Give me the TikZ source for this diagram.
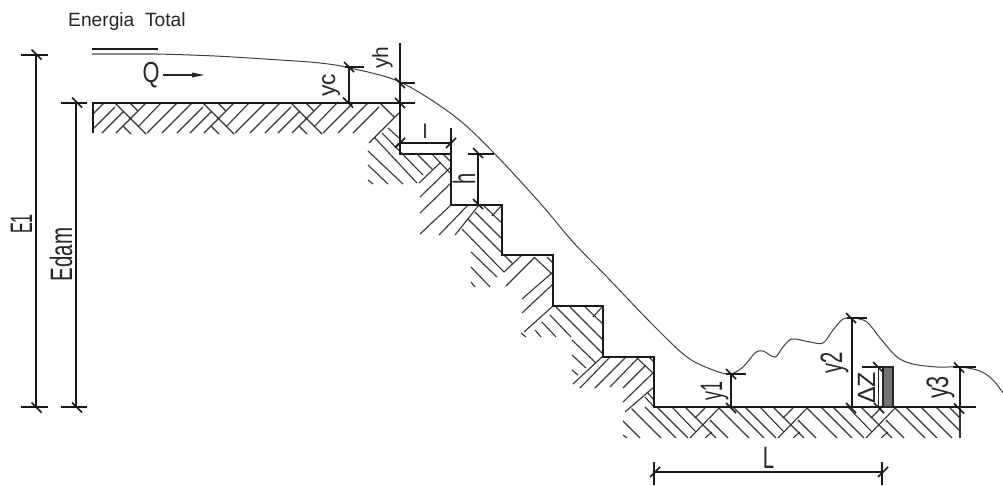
\documentclass[tikz,border=0pt]{standalone}
\usepackage{fontspec}
\usepackage{graphicx}
\setmainfont{Liberation Sans}
\tikzset{
  outline/.style={line width=1.4pt,draw=black!90},
  hatch/.style={line width=1.1pt,draw=black!80},
  dimline/.style={line width=1.3pt,draw=black!90},
  slash/.style={line width=1.6pt,draw=black!90},
  flow/.style={line width=1pt,draw=black!75},
  lab/.style={inner sep=0pt,text=black!85},
  vlab/.style={lab,rotate=90,anchor=base}
}
\newcommand{\bs}[2]{\draw[slash] (#1-5,#2-5) -- (#1+5,#2+5);}
\newcommand{\fs}[2]{\draw[slash] (#1-5,#2+5) -- (#1+5,#2-5);}
\newcommand{\fnt}[1]{\fontsize{#1}{#1}\selectfont}
\begin{document}
\begin{tikzpicture}[x=1pt,y=-1pt]
\fill[white] (0,0) rectangle (1003,485);
\useasboundingbox (0,0) rectangle (1003,485);
% top platform hatch
\begin{scope}
\clip (93,103) rectangle (400,134);
\foreach \t in {5,93,181,269}{
\begin{scope}[shift={(\t,0)}]
\draw[hatch] (9,133)--(31,111) (23,133)--(53,103) (22,103)--(53,134) (37,103)--(45,111) (30,126)--(38,134)
 (45,127)--(68,103) (54,133)--(84,103) (69,133)--(99,103) (84,133)--(110,107);
\end{scope}}
\end{scope}
% first step
\draw[hatch] (380,103)--(395,118) (369,143)--(399,113) (395,147)--(399,143) (382,133)--(423,175) (375,138)--(417,183)
 (368,151)--(403,184) (368,165)--(388,184) (368,180)--(373,184) (388,128)--(399,138);
% tile at (451,154)
\begin{scope}[shift={(451,154)}]
\draw[hatch] (-32,29)--(-11,9) (-31,43)--(0,13) (-31,59)--(0,29) (-31,80)--(1,50) (-12,81)--(17,51) (4,81)--(28,51)
 (-34,0)--(-19,15) (-19,0)--(-1,19) (-8,0)--(-1,7);
\end{scope}
% tile at (502,205)
\begin{scope}[shift={(502,205)}]
\draw[hatch] (-34,14)--(-1,47) (-27,7)--(0,34) (-18,1)--(0,18) (-10,11)--(-1,1)
 (-40,24)--(2,67) (-31,47)--(-5,72) (-31,62)--(-12,82) (-31,77)--(-27,82);
\end{scope}
% tile at (553,255)
\begin{scope}[shift={(553,255)}]
\draw[hatch] (-49,17)--(-32,1) (-47,31)--(-18,2) (-31,44)--(0,17) (-31,58)--(0,29) (-29,77)--(0,51)
 (-19,2)--(0,20) (-49,0)--(-41,8) (-6,2)--(0,8);
\end{scope}
% tile at (603,306)
\begin{scope}[shift={(603,306)}]
\draw[hatch] (-47,1)--(-1,47) (-33,1)--(0,34) (-18,1)--(0,18) (-10,11)--(-1,1)
 (-53,9)--(-32,31) (-31,34)--(-7,57) (-61,16)--(-47,31) (-31,49)--(-17,62) (-68,24)--(-62,31) (-31,64)--(-25,69) (-82,27)--(-77,31);
\end{scope}
% tile at (654,357)
\begin{scope}[shift={(654,357)}]
\draw[hatch] (-81,27)--(-52,0) (-74,31)--(-44,0) (-59,31)--(-29,1) (-44,30)--(-15,0) (-31,31)--(-9,9) (-31,45)--(-1,16) (-29,55)--(0,30)
 (-17,1)--(-1,16) (-5,0)--(0,5) (-7,35)--(0,43) (-9,40)--(0,50);
\end{scope}
% floor hatch
\begin{scope}
\clip (654,407)--(960,407)--(960,438)--(623,438)--(623,416)--(637,404)--cycle;
\foreach \c in {702,790,878}{
\begin{scope}[shift={(\c,0)}]
\draw[hatch] (-12,438)--(18,407) (-17,407)--(14,438) (-30,407)--(-6,432) (-45,407)--(-14,438) (-57,407)--(-26,438)
 (-72,407)--(-41,438) (-80,420)--(-62,438) (-6,417)--(3,408) (3,438)--(10,432);
\end{scope}}
\draw[hatch] (949,407)--(960,418) (936,407)--(960,431) (921,407)--(952,438) (906,407)--(937,438) (894,407)--(925,438) (886,420)--(904,438);
\draw[hatch] (623,435)--(627,438);
\end{scope}
% outlines
\draw[outline] (93,133)--(93,103)--(415,103);
\draw[outline] (400,43)--(400,154)--(451,154)--(451,205)--(502,205)--(502,255)--(553,255)--(553,306)--(603,306)--(603,357)--(654,357)--(654,407)--(976,407);
\draw[hatch,line width=1.2pt] (960,407)--(960,438);
% obstacle
\draw[line width=1.1pt,draw=black!85,fill=black!55] (883,367) rectangle (893,407);
% energy line and surface
\draw[line width=1.4pt,draw=black!90] (92,49)--(158,49);
\draw[line width=1.3pt,draw=black!45] (92,54)--(158,54);
\draw[flow] plot[smooth,tension=0.55] coordinates {(158,54)(215,56)(280,60)(320,63)(350,68)(400,82)(453,115)(493,152)(540,203)(573,242)(607,277)(653,325)(687,357)(713,370)(730,374)(743,367)(755,353)(763,351)(775,357)(783,347)(792,339)(810,342)(823,343)(833,330)(843,319)(853,318)(867,322)(880,338)(897,357)(913,364)(937,367)(960,367)(980,371)(993,380)(1003,393)};
% E1
\draw[dimline] (36,55)--(36,407) (21,55)--(48,55) (21,407)--(48,407);
\bs{36.5}{54.5}\bs{36.5}{407.5}
% Edam
\draw[dimline] (76,103)--(76,407) (61,103)--(87,103) (61,407)--(87,407);
\bs{77}{102.5}\bs{77}{407.5}
% yc
\draw[dimline] (349,68)--(349,103) (345,67)--(364,67);
\bs{349}{67}\bs{348}{102.5}
% yh
\draw[dimline] (400,83)--(415,83);
\bs{400}{83}\bs{400}{103}
% l
\draw[dimline] (400,143)--(451,143) (451,128)--(451,154);
\fs{400}{143}\fs{451}{143}
% h
\draw[dimline] (478,154)--(478,205) (468,154)--(494,154);
\bs{478}{153}\bs{478}{204}
% y1
\draw[dimline] (731,374)--(731,407) (726,374)--(746,374);
\bs{731}{374}\bs{731}{408}
% y2
\draw[dimline] (852,318)--(852,407) (847,318)--(867,318);
\bs{851}{318}\bs{851}{408}
% dz
\draw[line width=1pt,draw=black!85] (878,367)--(878,407);
\draw[dimline] (862,367)--(883,367);
\bs{878}{367}\bs{879}{408}
% y3
\draw[dimline] (960,367)--(960,407) (953,367)--(976,367);
\bs{959}{367.5}\bs{959}{408.5}
% L
\draw[dimline] (654,472)--(882,472) (654,462)--(654,485) (882,462)--(882,485);
\fs{655}{472}\fs{883}{472}
% flow arrow
\node[lab,anchor=base] (qlab) at (151,82) {\fnt{29}\scalebox{.75}[1]{Q}};
\coordinate (qs) at (163,75);
\coordinate (qe) at (204,75);
\draw[line width=1.1pt,draw=black!85] (qs)--(192,75);
\fill[black!85] (qe)--(192,72.5)--(192,77.5)--cycle;
% labels
\node[lab,anchor=base west] (title) at (68,26) {\fnt{19.2}Energia\ \ Total};
\node[vlab] (e1) at (32,224) {\fnt{31}\scalebox{.52}[1]{E1}};
\node[vlab] (edam) at (72,254.5) {\fnt{31}\scalebox{.66}[1]{Edam}};
\node[vlab] (yc) at (335,85) {\fnt{24}\scalebox{.95}[1]{yc}};
\node[vlab] (yh) at (388,57.5) {\fnt{22}\scalebox{.95}[1]{yh}};
\node[lab,anchor=base] (lw) at (425,138) {\fnt{20}l};
\node[vlab] (hh) at (475,178.5) {\fnt{31}\scalebox{.65}[1]{h}};
\node[vlab] (y1) at (722,391) {\fnt{31}\scalebox{.58}[1]{y1}};
\node[vlab] (y2) at (842,363) {\fnt{31}\scalebox{.65}[1]{y2}};
\node[vlab] (y3) at (948,387.5) {\fnt{31}\scalebox{.7}[1]{y3}};
\node[vlab] (dz) at (875,388) {\fnt{25}ΔZ};
\node[lab,anchor=base] (ll) at (768.5,468) {\fnt{31}\scalebox{.66}[1]{L}};
\end{tikzpicture}
\end{document}
